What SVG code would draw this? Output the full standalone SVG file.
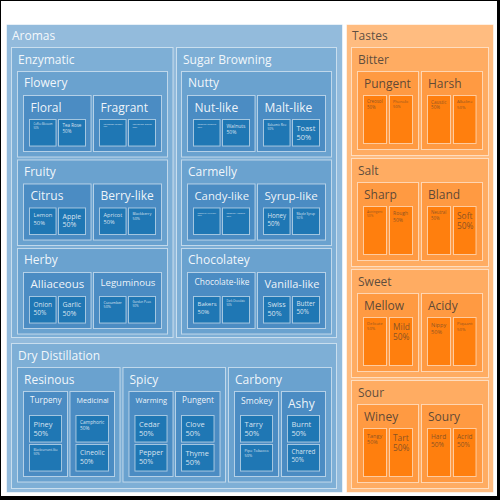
<svg xmlns="http://www.w3.org/2000/svg" width="500" height="500" viewBox="0 0 500 500">
<style>
rect.n{stroke:#fff;stroke-opacity:.55;stroke-width:1}
.b0{fill:#93bbdc}.b1{fill:#7eafd6}.b2{fill:#6aa2cf}.b3{fill:#4b8cc3}.bl{fill:#1f77b4}
.o0{fill:#ffbc80}.o1{fill:#ffac62}.o2{fill:#ff9a42}.ol{fill:#ff7f0e}
text{font-family:"Open Sans","Noto Sans","DejaVu Sans",sans-serif}
.hb{fill:#fff;fill-opacity:.92}
.ho{fill:#333;fill-opacity:.8}
.lb{fill:#fff;fill-opacity:.82}
.lo{fill:#333;fill-opacity:.6}
</style>
<rect x="0" y="0" width="500" height="500" fill="#fff"/>
<path d="M0 0H500V500H0Z M1 1V496H497V1Z" fill="#000" fill-rule="evenodd"/>

<g id="aromas">
<rect class="n b0" x="6.5" y="24.5" width="336" height="468"/>
<text class="hb" x="12" y="39.5" font-size="12">Aromas</text>

<g id="enzymatic">
<rect class="n b1" x="11.5" y="47.5" width="161.5" height="290"/>
<text class="hb" x="18" y="63.8" font-size="12">Enzymatic</text>

<g id="flowery">
<rect class="n b2" x="17.5" y="71.5" width="150" height="85.5"/>
<text class="hb" x="24" y="87.3" font-size="12">Flowery</text>
<g id="floral">
<rect class="n b3" x="23.5" y="95.5" width="67.5" height="56"/>
<text class="hb" x="30.5" y="111.5" font-size="12">Floral</text>
<g id="coffee-blossom"><rect class="n bl" x="29.5" y="119.5" width="26.5" height="26.5"/><text class="lb" x="33.5" y="125.4" font-size="2.6">Coffee Blossom<tspan x="33.5" dy="3.25">50%</tspan></text></g>
<g id="tea-rose"><rect class="n bl" x="58.5" y="119.5" width="27" height="26.5"/><text class="lb" x="62.5" y="127.4" font-size="4.5">Tea Rose<tspan x="62.5" dy="5.6">50%</tspan></text></g>
</g>
<g id="fragrant">
<rect class="n b3" x="93.5" y="95.5" width="68" height="56"/>
<text class="hb" x="100.5" y="111.5" font-size="12">Fragrant</text>
<g id="cardamom-caraway"><rect class="n bl" x="99.5" y="119.5" width="26.5" height="26.5"/><text class="lb" x="103.5" y="124.7" font-size="2">Cardamom Caraway<tspan x="103.5" dy="2.5">50%</tspan></text></g>
<g id="coriander-seeds"><rect class="n bl" x="128.5" y="119.5" width="27" height="26.5"/><text class="lb" x="132.5" y="125.3" font-size="2.5">Coriander Seeds<tspan x="132.5" dy="3.1">50%</tspan></text></g>
</g>
</g>

<g id="fruity">
<rect class="n b2" x="17.5" y="160" width="150" height="85.5"/>
<text class="hb" x="24" y="175.8" font-size="12">Fruity</text>
<g id="citrus">
<rect class="n b3" x="23.5" y="184" width="67.5" height="56"/>
<text class="hb" x="30.5" y="200" font-size="12">Citrus</text>
<g id="lemon"><rect class="n bl" x="29.5" y="208" width="26.5" height="26.5"/><text class="lb" x="33.5" y="217.4" font-size="5.8">Lemon<tspan x="33.5" dy="7.25">50%</tspan></text></g>
<g id="apple"><rect class="n bl" x="58.5" y="208" width="27" height="26.5"/><text class="lb" x="62.5" y="218.7" font-size="7">Apple<tspan x="62.5" dy="8.75">50%</tspan></text></g>
</g>
<g id="berry-like">
<rect class="n b3" x="93.5" y="184" width="68" height="56"/>
<text class="hb" x="100.5" y="200" font-size="12">Berry-like</text>
<g id="apricot"><rect class="n bl" x="99.5" y="208" width="26.5" height="26.5"/><text class="lb" x="103.5" y="217.2" font-size="5.6">Apricot<tspan x="103.5" dy="7">50%</tspan></text></g>
<g id="blackberry"><rect class="n bl" x="128.5" y="208" width="27" height="26.5"/><text class="lb" x="132.5" y="215.2" font-size="3.8">Blackberry<tspan x="132.5" dy="4.75">50%</tspan></text></g>
</g>
</g>

<g id="herby">
<rect class="n b2" x="17.5" y="248.5" width="150" height="85.5"/>
<text class="hb" x="24" y="264.3" font-size="12">Herby</text>
<g id="alliaceous">
<rect class="n b3" x="23.5" y="272.5" width="67.5" height="56"/>
<text class="hb" x="30.5" y="288.2" font-size="11.5">Alliaceous</text>
<g id="onion"><rect class="n bl" x="29.5" y="296.5" width="26.5" height="26.5"/><text class="lb" x="33.5" y="306.6" font-size="6.5">Onion<tspan x="33.5" dy="8.1">50%</tspan></text></g>
<g id="garlic"><rect class="n bl" x="58.5" y="296.5" width="27" height="26.5"/><text class="lb" x="62.5" y="307.2" font-size="7">Garlic<tspan x="62.5" dy="8.75">50%</tspan></text></g>
</g>
<g id="leguminous">
<rect class="n b3" x="93.5" y="272.5" width="68" height="56"/>
<text class="hb" x="100.5" y="286.1" font-size="9.6">Leguminous</text>
<g id="cucumber"><rect class="n bl" x="99.5" y="296.5" width="26.5" height="26.5"/><text class="lb" x="103.5" y="303.7" font-size="3.8">Cucumber<tspan x="103.5" dy="4.75">50%</tspan></text></g>
<g id="garden-peas"><rect class="n bl" x="128.5" y="296.5" width="27" height="26.5"/><text class="lb" x="132.5" y="302.9" font-size="3.1">Garden Peas<tspan x="132.5" dy="3.9">50%</tspan></text></g>
</g>
</g>
</g>

<g id="sugar-browning">
<rect class="n b1" x="176.5" y="47.5" width="160" height="290"/>
<text class="hb" x="183" y="63.8" font-size="12">Sugar Browning</text>

<g id="nutty">
<rect class="n b2" x="181.5" y="71.5" width="150" height="85.5"/>
<text class="hb" x="188" y="87.3" font-size="12">Nutty</text>
<g id="nut-like">
<rect class="n b3" x="187.5" y="95.5" width="67.5" height="56"/>
<text class="hb" x="194.5" y="111.5" font-size="12">Nut-like</text>
<g id="roasted-peanuts"><rect class="n bl" x="193.5" y="119.5" width="26.5" height="26.5"/><text class="lb" x="197.5" y="125.1" font-size="2.4">Roasted Peanuts<tspan x="197.5" dy="3">50%</tspan></text></g>
<g id="walnuts"><rect class="n bl" x="222.5" y="119.5" width="27" height="26.5"/><text class="lb" x="226.5" y="128" font-size="5">Walnuts<tspan x="226.5" dy="6.25">50%</tspan></text></g>
</g>
<g id="malt-like">
<rect class="n b3" x="257.5" y="95.5" width="68" height="56"/>
<text class="hb" x="264.5" y="111.5" font-size="12">Malt-like</text>
<g id="balsamic-rice"><rect class="n bl" x="263.5" y="119.5" width="26.5" height="26.5"/><text class="lb" x="267.5" y="125.8" font-size="3">Balsamic Rice<tspan x="267.5" dy="3.75">50%</tspan></text></g>
<g id="toast"><rect class="n bl" x="292.5" y="119.5" width="27" height="26.5"/><text class="lb" x="296.5" y="130.6" font-size="7.4">Toast<tspan x="296.5" dy="9.25">50%</tspan></text></g>
</g>
</g>

<g id="carmelly">
<rect class="n b2" x="181.5" y="160" width="150" height="85.5"/>
<text class="hb" x="188" y="175.8" font-size="12">Carmelly</text>
<g id="candy-like">
<rect class="n b3" x="187.5" y="184" width="67.5" height="56"/>
<text class="hb" x="194.5" y="199.5" font-size="11.3">Candy-like</text>
<g id="roasted-hazelnut"><rect class="n bl" x="193.5" y="208" width="26.5" height="26.5"/><text class="lb" x="197.5" y="213.5" font-size="2.25">Roasted Hazelnut<tspan x="197.5" dy="2.8">50%</tspan></text></g>
<g id="roasted-almond"><rect class="n bl" x="222.5" y="208" width="27" height="26.5"/><text class="lb" x="226.5" y="213.6" font-size="2.4">Roasted Almond<tspan x="226.5" dy="3">50%</tspan></text></g>
</g>
<g id="syrup-like">
<rect class="n b3" x="257.5" y="184" width="68" height="56"/>
<text class="hb" x="264.5" y="200" font-size="11.6">Syrup-like</text>
<g id="honey"><rect class="n bl" x="263.5" y="208" width="26.5" height="26.5"/><text class="lb" x="267.5" y="217.8" font-size="6.2">Honey<tspan x="267.5" dy="7.75">50%</tspan></text></g>
<g id="maple-syrup"><rect class="n bl" x="292.5" y="208" width="27" height="26.5"/><text class="lb" x="296.5" y="214.5" font-size="3.2">Maple Syrup<tspan x="296.5" dy="4">50%</tspan></text></g>
</g>
</g>

<g id="chocolatey">
<rect class="n b2" x="181.5" y="248.5" width="150" height="85.5"/>
<text class="hb" x="188" y="264.3" font-size="12">Chocolatey</text>
<g id="chocolate-like">
<rect class="n b3" x="187.5" y="272.5" width="67.5" height="56"/>
<text class="hb" x="194.5" y="285" font-size="8.4">Chocolate-like</text>
<g id="bakers"><rect class="n bl" x="193.5" y="296.5" width="26.5" height="26.5"/><text class="lb" x="197.5" y="306.1" font-size="6">Bakers<tspan x="197.5" dy="7.5">50%</tspan></text></g>
<g id="dark-chocolate"><rect class="n bl" x="222.5" y="296.5" width="27" height="26.5"/><text class="lb" x="226.5" y="302.4" font-size="2.6">Dark Chocolate<tspan x="226.5" dy="3.25">50%</tspan></text></g>
</g>
<g id="vanilla-like">
<rect class="n b3" x="257.5" y="272.5" width="68" height="56"/>
<text class="hb" x="264.5" y="287.7" font-size="11">Vanilla-like</text>
<g id="swiss"><rect class="n bl" x="263.5" y="296.5" width="26.5" height="26.5"/><text class="lb" x="267.5" y="307.4" font-size="7.2">Swiss<tspan x="267.5" dy="9">50%</tspan></text></g>
<g id="butter"><rect class="n bl" x="292.5" y="296.5" width="27" height="26.5"/><text class="lb" x="296.5" y="306.4" font-size="6.3">Butter<tspan x="296.5" dy="7.9">50%</tspan></text></g>
</g>
</g>
</g>

<g id="dry-distillation">
<rect class="n b1" x="11.5" y="343.5" width="325" height="145"/>
<text class="hb" x="18" y="359.5" font-size="12">Dry Distillation</text>

<g id="resinous">
<rect class="n b2" x="17.5" y="367.5" width="102.5" height="114.5"/>
<text class="hb" x="24" y="383.5" font-size="12">Resinous</text>
<g id="turpeny">
<rect class="n b3" x="23.5" y="391.5" width="44" height="85"/>
<text class="hb" x="30" y="403.2" font-size="8.2">Turpeny</text>
<g id="piney"><rect class="n bl" x="29.5" y="415.5" width="32" height="26.5"/><text class="lb" x="33.5" y="426.7" font-size="7.5">Piney<tspan x="33.5" dy="9.4">50%</tspan></text></g>
<g id="blackcurrant-like"><rect class="n bl" x="29.5" y="444.5" width="32" height="26.5"/><text class="lb" x="33.5" y="450.9" font-size="3.1">Blackcurrant-like<tspan x="33.5" dy="3.9">50%</tspan></text></g>
</g>
<g id="medicinal">
<rect class="n b3" x="70" y="391.5" width="44.5" height="85"/>
<text class="hb" x="76.5" y="402.5" font-size="7.2">Medicinal</text>
<g id="camphoric"><rect class="n bl" x="76" y="415.5" width="32.5" height="26.5"/><text class="lb" x="80" y="423.8" font-size="4.8">Camphoric<tspan x="80" dy="6">50%</tspan></text></g>
<g id="cineolic"><rect class="n bl" x="76" y="444.5" width="32.5" height="26.5"/><text class="lb" x="80" y="455" font-size="6.8">Cineolic<tspan x="80" dy="8.5">50%</tspan></text></g>
</g>
</g>

<g id="spicy">
<rect class="n b2" x="123" y="367.5" width="102.5" height="114.5"/>
<text class="hb" x="129.5" y="383.5" font-size="12">Spicy</text>
<g id="warming">
<rect class="n b3" x="129" y="391.5" width="44" height="85"/>
<text class="hb" x="135.5" y="402.7" font-size="7.5">Warming</text>
<g id="cedar"><rect class="n bl" x="135" y="415.5" width="32" height="26.5"/><text class="lb" x="139" y="426.7" font-size="7.5">Cedar<tspan x="139" dy="9.4">50%</tspan></text></g>
<g id="pepper"><rect class="n bl" x="135" y="444.5" width="32" height="26.5"/><text class="lb" x="139" y="455.4" font-size="7.2">Pepper<tspan x="139" dy="9">50%</tspan></text></g>
</g>
<g id="spicy-pungent">
<rect class="n b3" x="175.5" y="391.5" width="44.5" height="85"/>
<text class="hb" x="182" y="403.3" font-size="8.2">Pungent</text>
<g id="clove"><rect class="n bl" x="181.5" y="415.5" width="32.5" height="26.5"/><text class="lb" x="185.5" y="426.7" font-size="7.5">Clove<tspan x="185.5" dy="9.4">50%</tspan></text></g>
<g id="thyme"><rect class="n bl" x="181.5" y="444.5" width="32.5" height="26.5"/><text class="lb" x="185.5" y="455.6" font-size="7.4">Thyme<tspan x="185.5" dy="9.25">50%</tspan></text></g>
</g>
</g>

<g id="carbony">
<rect class="n b2" x="228.5" y="367.5" width="103" height="114.5"/>
<text class="hb" x="235" y="383.5" font-size="12">Carbony</text>
<g id="smokey">
<rect class="n b3" x="234.5" y="391.5" width="44" height="85"/>
<text class="hb" x="241" y="403.8" font-size="8.6">Smokey</text>
<g id="tarry"><rect class="n bl" x="240.5" y="415.5" width="32" height="26.5"/><text class="lb" x="244.5" y="426.7" font-size="7.5">Tarry<tspan x="244.5" dy="9.4">50%</tspan></text></g>
<g id="pipe-tobacco"><rect class="n bl" x="240.5" y="444.5" width="32" height="26.5"/><text class="lb" x="244.5" y="451.8" font-size="3.9">Pipe Tobacco<tspan x="244.5" dy="4.9">50%</tspan></text></g>
</g>
<g id="ashy">
<rect class="n b3" x="281.5" y="391.5" width="44" height="85"/>
<text class="hb" x="288" y="407.5" font-size="12">Ashy</text>
<g id="burnt"><rect class="n bl" x="287.5" y="415.5" width="32" height="26.5"/><text class="lb" x="291.5" y="426.7" font-size="7.5">Burnt<tspan x="291.5" dy="9.4">50%</tspan></text></g>
<g id="charred"><rect class="n bl" x="287.5" y="444.5" width="32" height="26.5"/><text class="lb" x="291.5" y="454.4" font-size="6.3">Charred<tspan x="291.5" dy="7.9">50%</tspan></text></g>
</g>
</g>
</g>
</g>

<g id="tastes">
<rect class="n o0" x="346.5" y="24.5" width="147" height="468"/>
<text class="ho" x="352" y="39.5" font-size="12">Tastes</text>

<g id="bitter">
<rect class="n o1" x="351.5" y="47.5" width="137" height="108"/>
<text class="ho" x="358" y="63.5" font-size="12">Bitter</text>
<g id="bitter-pungent">
<rect class="n o2" x="357.5" y="71.5" width="61" height="78"/>
<text class="ho" x="364" y="87.7" font-size="12">Pungent</text>
<g id="creosol"><rect class="n ol" x="363.5" y="95.5" width="23" height="48"/><text class="lo" x="367" y="103.3" font-size="4.4">Creosol<tspan x="367" dy="5.5">50%</tspan></text></g>
<g id="phenolic"><rect class="n ol" x="389.5" y="95.5" width="23" height="48"/><text class="lo" x="393" y="102.8" font-size="3.9">Phenolic<tspan x="393" dy="4.9">50%</tspan></text></g>
</g>
<g id="harsh">
<rect class="n o2" x="421.5" y="71.5" width="61" height="78"/>
<text class="ho" x="428" y="87.7" font-size="12">Harsh</text>
<g id="caustic"><rect class="n ol" x="427.5" y="95.5" width="23" height="48"/><text class="lo" x="431" y="103.6" font-size="4.6">Caustic<tspan x="431" dy="5.75">50%</tspan></text></g>
<g id="alkaline"><rect class="n ol" x="453.5" y="95.5" width="22.5" height="48"/><text class="lo" x="457" y="103.2" font-size="4.3">Alkaline<tspan x="457" dy="5.4">50%</tspan></text></g>
</g>
</g>

<g id="salt">
<rect class="n o1" x="351.5" y="158.5" width="137" height="108"/>
<text class="ho" x="358" y="174.5" font-size="12">Salt</text>
<g id="sharp">
<rect class="n o2" x="357.5" y="182.5" width="61" height="78"/>
<text class="ho" x="364" y="198.7" font-size="12">Sharp</text>
<g id="astringent"><rect class="n ol" x="363.5" y="206.5" width="23" height="48"/><text class="lo" x="367" y="213" font-size="3.2">Astringent<tspan x="367" dy="4">50%</tspan></text></g>
<g id="rough"><rect class="n ol" x="389.5" y="206.5" width="23" height="48"/><text class="lo" x="393" y="215.1" font-size="5.1">Rough<tspan x="393" dy="6.4">50%</tspan></text></g>
</g>
<g id="bland">
<rect class="n o2" x="421.5" y="182.5" width="61" height="78"/>
<text class="ho" x="428" y="198.7" font-size="12">Bland</text>
<g id="neutral"><rect class="n ol" x="427.5" y="206.5" width="23" height="48"/><text class="lo" x="431" y="214.3" font-size="4.4">Neutral<tspan x="431" dy="5.5">50%</tspan></text></g>
<g id="soft"><rect class="n ol" x="453.5" y="206.5" width="22.5" height="48"/><text class="lo" x="457" y="218.8" font-size="8.4">Soft<tspan x="457" dy="10.2">50%</tspan></text></g>
</g>
</g>

<g id="sweet">
<rect class="n o1" x="351.5" y="269.5" width="137" height="108"/>
<text class="ho" x="358" y="285.5" font-size="12">Sweet</text>
<g id="mellow">
<rect class="n o2" x="357.5" y="293.5" width="61" height="78"/>
<text class="ho" x="364" y="309.7" font-size="12">Mellow</text>
<g id="delicate"><rect class="n ol" x="363.5" y="317.5" width="23" height="48"/><text class="lo" x="367" y="325.1" font-size="4.2">Delicate<tspan x="367" dy="5.25">50%</tspan></text></g>
<g id="mild"><rect class="n ol" x="389.5" y="317.5" width="23" height="48"/><text class="lo" x="393" y="329.8" font-size="8.4">Mild<tspan x="393" dy="10.2">50%</tspan></text></g>
</g>
<g id="acidy">
<rect class="n o2" x="421.5" y="293.5" width="61" height="78"/>
<text class="ho" x="428" y="309.7" font-size="12">Acidy</text>
<g id="nippy"><rect class="n ol" x="427.5" y="317.5" width="23" height="48"/><text class="lo" x="431" y="326.7" font-size="5.6">Nippy<tspan x="431" dy="7">50%</tspan></text></g>
<g id="piquant"><rect class="n ol" x="453.5" y="317.5" width="22.5" height="48"/><text class="lo" x="457" y="325.2" font-size="4.3">Piquant<tspan x="457" dy="5.4">50%</tspan></text></g>
</g>
</g>

<g id="sour">
<rect class="n o1" x="351.5" y="380.5" width="137" height="108"/>
<text class="ho" x="358" y="396.5" font-size="12">Sour</text>
<g id="winey">
<rect class="n o2" x="357.5" y="404.5" width="61" height="78"/>
<text class="ho" x="364" y="420.7" font-size="12">Winey</text>
<g id="tangy"><rect class="n ol" x="363.5" y="428.5" width="23" height="48"/><text class="lo" x="367" y="437.5" font-size="5.5">Tangy<tspan x="367" dy="6.9">50%</tspan></text></g>
<g id="tart"><rect class="n ol" x="389.5" y="428.5" width="23" height="48"/><text class="lo" x="393" y="440.8" font-size="8.4">Tart<tspan x="393" dy="10.2">50%</tspan></text></g>
</g>
<g id="soury">
<rect class="n o2" x="421.5" y="404.5" width="61" height="78"/>
<text class="ho" x="428" y="420.7" font-size="12">Soury</text>
<g id="hard"><rect class="n ol" x="427.5" y="428.5" width="23" height="48"/><text class="lo" x="431" y="438.8" font-size="6.6">Hard<tspan x="431" dy="8.25">50%</tspan></text></g>
<g id="acrid"><rect class="n ol" x="453.5" y="428.5" width="22.5" height="48"/><text class="lo" x="457" y="438.6" font-size="6.5">Acrid<tspan x="457" dy="8.1">50%</tspan></text></g>
</g>
</g>
</g>
</svg>
